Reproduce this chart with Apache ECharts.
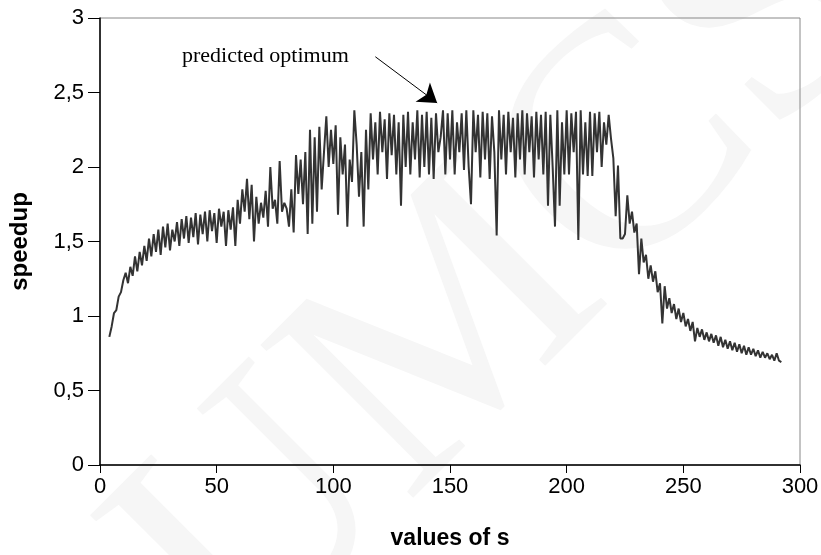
<!DOCTYPE html>
<html><head><meta charset="utf-8">
<script src="https://cdn.jsdelivr.net/npm/echarts@6/dist/echarts.min.js"></script>
<style>html,body{margin:0;padding:0;background:#fff}#c{width:821px;height:555px}</style>
</head><body><div id="c"></div>
<script>
// first value of s in the series
const sStart = 4;
// speedup for s = 4, 5, 6, ... 292
const speedup = [
  0.86, 0.93, 1.02, 1.04, 1.13, 1.16,
  1.24, 1.29, 1.22, 1.33, 1.27, 1.40, 1.30, 1.43, 1.34, 1.47,
  1.37, 1.52, 1.40, 1.55, 1.43, 1.58, 1.41, 1.60, 1.46, 1.62,
  1.44, 1.58, 1.50, 1.63, 1.47, 1.65, 1.52, 1.67, 1.49, 1.66,
  1.53, 1.69, 1.48, 1.68, 1.55, 1.70, 1.50, 1.71, 1.57, 1.69,
  1.49, 1.72, 1.60, 1.70, 1.47, 1.71, 1.58, 1.73, 1.47, 1.78,
  1.62, 1.85, 1.70, 1.92, 1.65, 1.88, 1.50, 1.80, 1.62, 1.76,
  1.66, 1.84, 1.60, 2.00, 1.72, 1.78, 1.62, 2.04, 1.70, 1.76,
  1.72, 1.60, 1.85, 1.56, 2.08, 1.82, 2.05, 1.75, 2.10, 1.55,
  2.25, 1.62, 2.20, 1.70, 2.27, 1.85, 2.10, 2.34, 2.00, 2.25,
  2.02, 2.28, 1.68, 2.20, 1.95, 2.15, 1.60, 2.05, 1.90, 2.38,
  2.15, 1.80, 2.10, 1.60, 2.25, 1.85, 2.36, 2.05, 2.30, 1.95,
  2.37, 2.10, 2.32, 1.92, 2.36, 2.08, 2.35, 1.95, 2.30, 1.74,
  2.35, 2.00, 2.37, 1.95, 2.30, 2.05, 2.38, 1.93, 2.35, 2.00,
  2.37, 1.95, 2.33, 1.92, 2.36, 2.10, 2.20, 2.38, 1.95, 2.36,
  2.05, 2.38, 1.95, 2.30, 2.10, 2.36, 1.98, 2.38, 2.00, 1.75,
  2.38, 2.10, 2.35, 1.93, 2.37, 2.05, 2.36, 1.92, 2.34, 2.10,
  1.54, 2.38, 2.05, 2.35, 1.95, 2.37, 2.10, 2.33, 1.93, 2.36,
  2.05, 2.38, 1.95, 2.36, 2.10, 2.34, 1.93, 2.37, 2.05, 2.35,
  1.95, 2.37, 1.74, 2.35, 2.00, 1.60, 2.38, 1.74, 2.30, 1.95,
  2.38, 1.95, 2.36, 2.10, 2.37, 1.51, 2.38, 1.95, 2.30, 1.94,
  2.37, 1.94, 2.36, 2.10, 2.37, 2.00, 2.30, 2.15, 2.35, 2.19,
  2.06, 1.67, 2.01, 1.52, 1.52, 1.55, 1.81, 1.62, 1.70, 1.56,
  1.62, 1.28, 1.52, 1.36, 1.41, 1.25, 1.34, 1.23, 1.30, 1.16,
  1.22, 0.95, 1.20, 1.05, 1.12, 1.02, 1.08, 0.98, 1.05, 0.96,
  1.02, 0.93, 0.98, 0.90, 0.96, 0.83, 0.92, 0.86, 0.91, 0.84,
  0.89, 0.83, 0.88, 0.82, 0.87, 0.80, 0.86, 0.79, 0.84, 0.78,
  0.83, 0.77, 0.82, 0.76, 0.81, 0.75, 0.80, 0.74, 0.79, 0.74,
  0.78, 0.73, 0.77, 0.72, 0.76, 0.72, 0.75, 0.71, 0.74, 0.70,
  0.75, 0.70, 0.69
];
// axis ranges
const xRange = [0, 300, 50];
const yRange = [0, 3, 0.5];
// annotation
const annotationText = 'predicted optimum';
const arrowStart = [118, 2.74];
const arrowEnd = [144.5, 2.43];
const watermarkText = 'UMCS';

const seriesData = speedup.map((v, i) => [sStart + i, v]);

const tickFont = '"Liberation Sans", Arial, sans-serif';
const nameFont = '"Liberation Sans", Arial, sans-serif';

const chart = echarts.init(document.getElementById('c'), null, {renderer: 'canvas'});
chart.setOption({
  animation: false,
  backgroundColor: '#fff',
  grid: {left: 100, right: 21, top: 18, bottom: 90, show: true, borderColor: '#888', borderWidth: 1,
         containLabel: false, outerBoundsMode: 'none'},
  graphic: [
    {type: 'text', left: 182, top: 45, z: 10,
     style: {text: annotationText, font: '22px "Liberation Serif", "Times New Roman", serif', fill: '#000'}},
    {type: 'text', x: 60, y: 495, rotation: Math.PI / 4, z: -10, silent: true,
     style: {text: watermarkText, font: '330px "Liberation Serif", serif', fill: '#f6f6f6'}}
  ],
  xAxis: {
    type: 'value', min: xRange[0], max: xRange[1], interval: xRange[2],
    name: 'values of s', nameLocation: 'middle', nameGap: 62,
    nameTextStyle: {fontFamily: nameFont, fontSize: 23, fontWeight: 'bold', color: '#000'},
    axisLine: {lineStyle: {color: '#000', width: 1.5}},
    axisTick: {show: true, inside: false, length: 8, lineStyle: {color: '#000'}},
    axisLabel: {fontFamily: tickFont, fontSize: 22, color: '#000', margin: 11},
    splitLine: {show: false}
  },
  yAxis: {
    type: 'value', min: yRange[0], max: yRange[1], interval: yRange[2],
    name: 'speedup', nameLocation: 'middle', nameGap: 68, nameRotate: 90,
    nameTextStyle: {fontFamily: nameFont, fontSize: 24, fontWeight: 'bold', color: '#000'},
    axisLine: {show: true, lineStyle: {color: '#000', width: 1.5}},
    axisTick: {show: true, inside: false, length: 12, lineStyle: {color: '#000'}},
    axisLabel: {fontFamily: tickFont, fontSize: 22, color: '#000', margin: 16,
      formatter: v => String(v).replace('.', ',')},
    splitLine: {show: false}
  },
  series: [{
    type: 'line', data: seriesData, showSymbol: false, symbol: 'none',
    lineStyle: {color: '#333', width: 2},
    markLine: {
      silent: true, symbol: ['none', 'arrow'], symbolSize: 18,
      lineStyle: {color: '#000', width: 1, type: 'solid'},
      label: {show: false},
      data: [[{coord: arrowStart}, {coord: arrowEnd}]]
    }
  }]
});
</script>
</body></html>
